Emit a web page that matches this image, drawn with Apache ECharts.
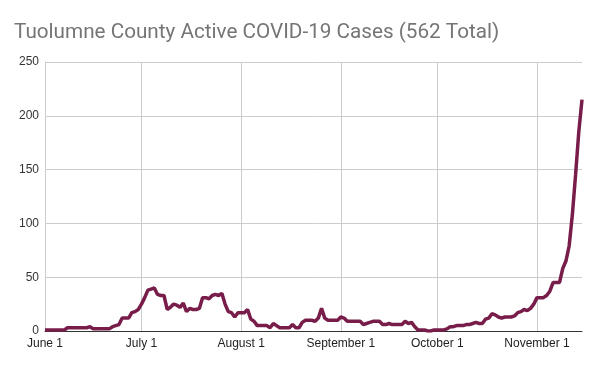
<!DOCTYPE html>
<html>
<head>
<meta charset="utf-8">
<script src="https://cdn.jsdelivr.net/npm/echarts@6/dist/echarts.min.js"></script>
<style>html,body{margin:0;padding:0;background:#fff;}#c{width:600px;height:371px;}</style>
</head>
<body>
<div id="c"></div>
<script>
const titleText = "Tuolumne County Active COVID-19 Cases (562 Total)";
const monthNames = ["June", "July", "August", "September", "October", "November"];
const monthDays = [30, 31, 31, 30, 31, 15];
const yTicks = [0, 50, 100, 150, 200, 250];
const activeCases = [
  1, 1, 1, 1, 1, 1, 1, 3, 3, 3, 3, 3, 3, 3, 4, 2, 2, 2, 2, 2, 2, 4, 5, 6, 12, 12, 12, 17, 18, 20,
  25, 31, 38, 39, 40, 34, 33, 33, 20, 22, 25, 24, 22, 26, 18, 21, 20, 20, 21, 31, 31, 30, 33, 34, 33, 35, 25, 18, 17, 13, 17,
  17, 17, 20, 11, 9, 5, 5, 5, 5, 3, 7, 5, 3, 3, 3, 3, 6, 3, 3, 8, 10, 10, 10, 9, 12, 21, 12, 10, 10, 10, 10,
  13, 12, 9, 9, 9, 9, 9, 6, 7, 8, 9, 9, 9, 6, 6, 7, 6, 6, 6, 6, 9, 7, 8, 4, 1, 1, 1, 0, 0, 1,
  1, 1, 1, 2, 4, 4, 5, 5, 5, 6, 6, 7, 8, 7, 7, 11, 12, 16, 15, 13, 12, 13, 13, 13, 14, 17, 18, 20, 19, 21, 25,
  31, 31, 31, 33, 37, 45, 45, 45, 58, 65, 79, 108, 145, 185, 215
];
const categories = [];
monthNames.forEach((m, i) => { for (let d = 1; d <= monthDays[i]; d++) categories.push(m + " " + d); });
const isMonthStart = (idx) => /\s1$/.test(categories[idx]);

const chart = echarts.init(document.getElementById('c'));
chart.setOption({
  animation: false,
  title: {
    text: titleText, left: 9, top: 17,
    textStyle: { fontFamily: 'Roboto', fontWeight: 'normal', fontSize: 20.7, color: '#757575' }
  },
  grid: { left: 45, right: 18, top: 62, bottom: 40, containLabel: false },
  xAxis: {
    type: 'category', data: categories, boundaryGap: false,
    axisLine: { show: true, lineStyle: { color: '#333', width: 1 } },
    axisTick: { show: false },
    axisLabel: {
      interval: (i) => isMonthStart(i), color: '#222', fontSize: 12,
      fontFamily: 'Liberation Sans, Arial', margin: 7
    },
    splitLine: { show: true, interval: (i) => isMonthStart(i) && i > 0, lineStyle: { color: '#cccccc', width: 1 } }
  },
  yAxis: {
    type: 'value', min: yTicks[0], max: yTicks[yTicks.length - 1], interval: 50,
    axisLine: { show: true, lineStyle: { color: '#cccccc' } },
    axisTick: { show: false },
    axisLabel: { color: '#333', fontSize: 12, fontFamily: 'Liberation Sans, Arial', margin: 6 },
    splitLine: { lineStyle: { color: '#cccccc', width: 1 } }
  },
  series: [{
    type: 'line', data: activeCases, showSymbol: false, symbol: 'none',
    lineStyle: { color: '#781c49', width: 3.5 }, itemStyle: { color: '#781c49' }
  }]
});
</script>
</body>
</html>
